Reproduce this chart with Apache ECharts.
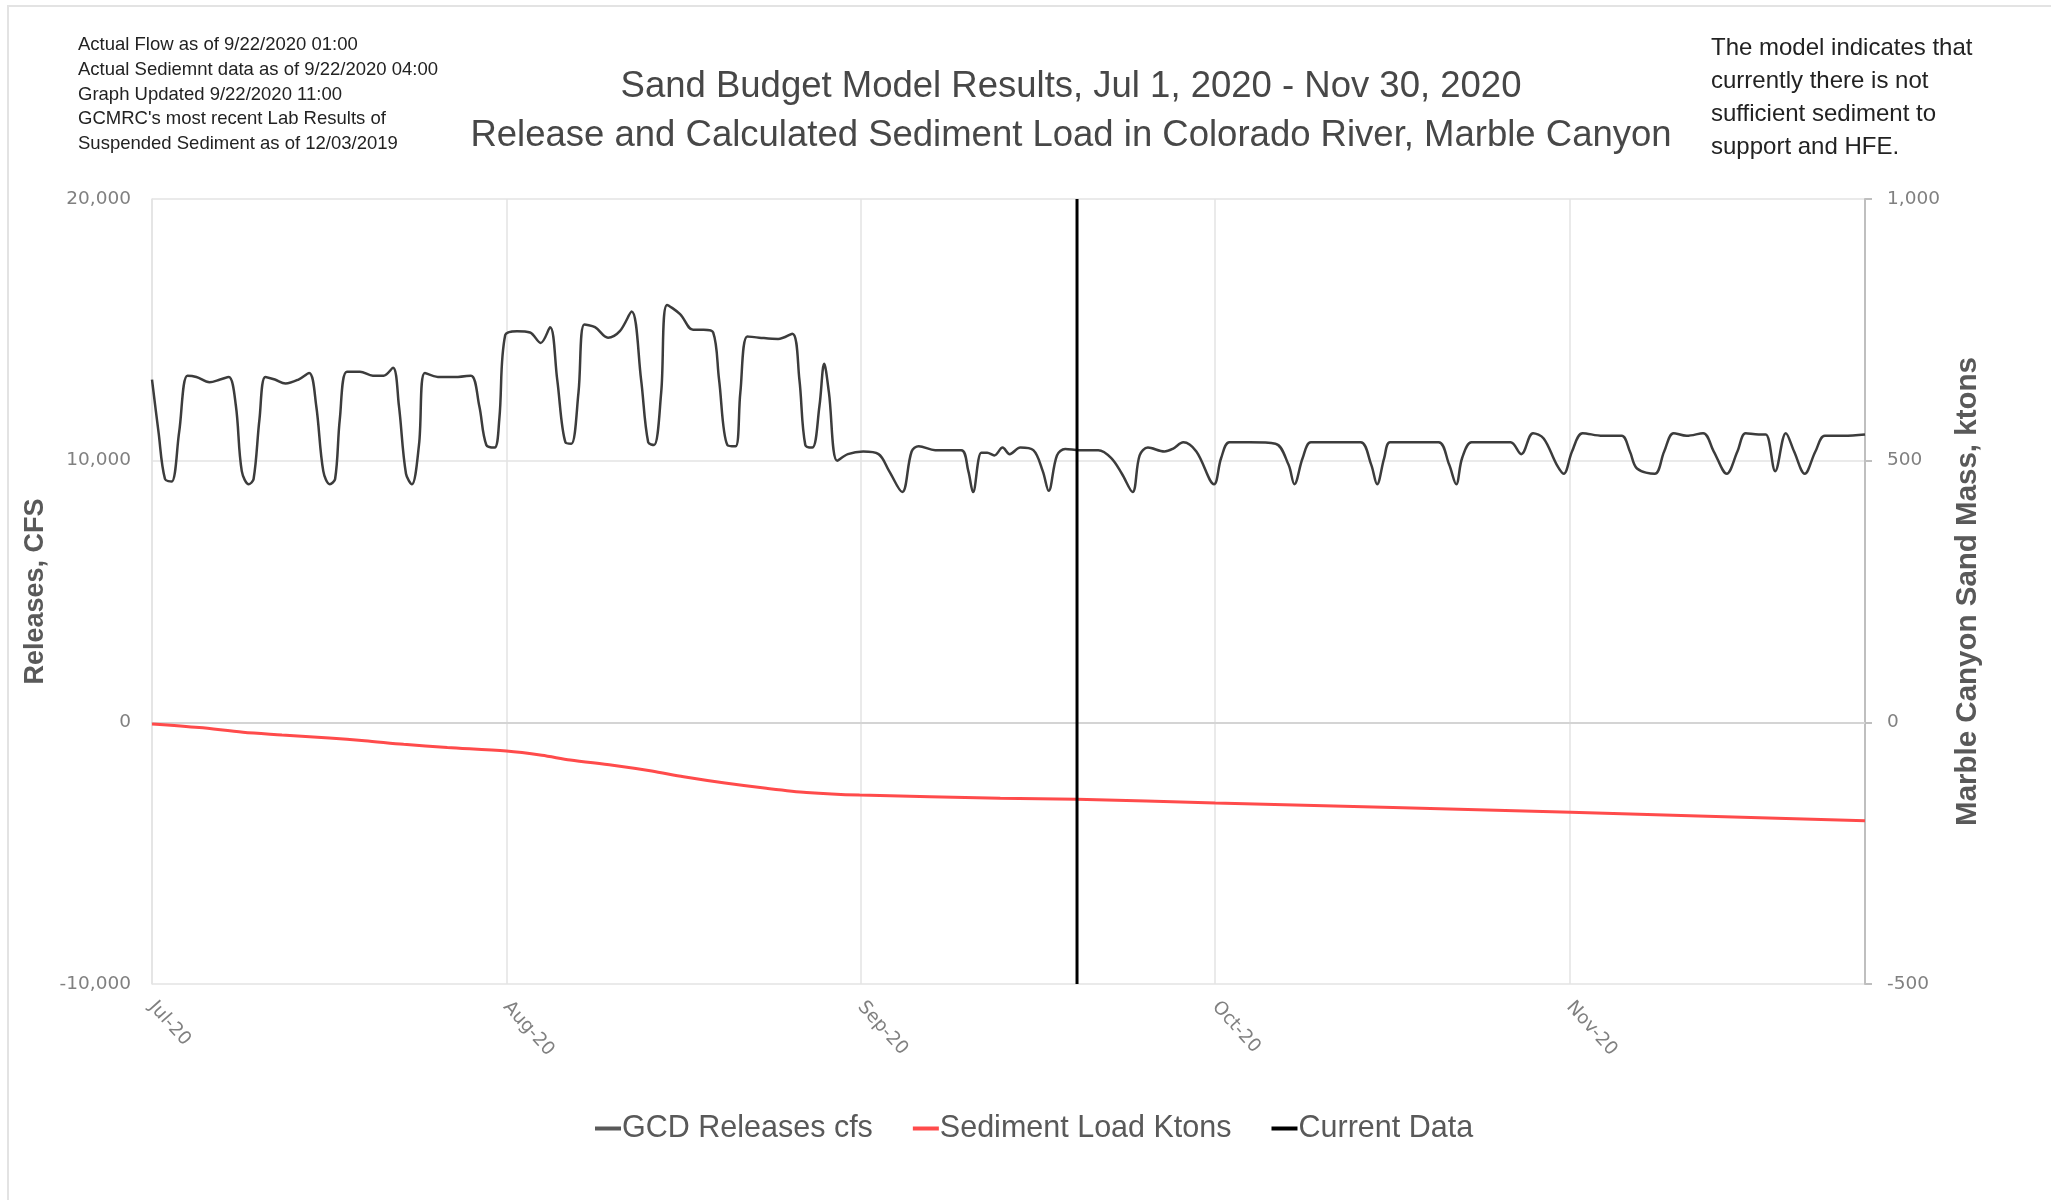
<!DOCTYPE html>
<html>
<head>
<meta charset="utf-8">
<script src="https://cdn.jsdelivr.net/npm/echarts@6/dist/echarts.min.js"></script>
<style>
  html, body { margin: 0; padding: 0; background: #fff; }
  #chart { width: 2051px; height: 1200px; }
</style>
</head>
<body>
<div id="chart"></div>
<script>
// x is days since Jul 1, 2020 (axis labels every 30 days)
const monthLabels = ['Jul-20', 'Aug-20', 'Sep-20', 'Oct-20', 'Nov-20']

// GCD releases, cfs
const releaseDay = [0, 0.55, 1.1, 1.66, 2.3, 3.0, 3.76, 4.87, 5.76, 6.5, 7.1, 7.6, 8.2, 8.6, 9.1, 9.6, 10.4, 11.3, 12.4, 13.3,
  13.9, 14.5, 15.05, 15.5, 15.9, 16.5, 17.6, 18.7, 19.6, 20.4, 20.9, 21.5, 22.0, 22.6, 23.1, 24.2, 25.9, 27.0, 27.7, 28.3,
  29.0, 29.4, 29.9, 30.9, 32.0, 32.9, 33.7, 34.3, 35.0, 35.5, 36.1, 36.6, 37.5, 38.6, 39.6, 40.6, 41.4, 42.0, 42.5, 43.1,
  43.6, 44.7, 45.8, 46.7, 47.5, 48.0, 48.7, 49.4, 49.8, 50.4, 51.4, 53.0, 54.2, 54.8, 55.3, 55.9, 56.5, 56.9, 57.3, 58.0,
  58.9, 60.2, 61.5, 62.4, 63.5, 64.3, 64.9, 66.3, 68.5, 69.1, 69.5, 70.2, 70.7, 71.3, 72.0, 72.6, 73.5, 74.6, 75.4, 75.9,
  76.6, 77.3, 78.5, 80.1, 81.2, 82.1, 83.0, 83.6, 84.3, 85.7, 86.4, 87.3, 88.4, 89.9, 90.5, 91.2, 92.9, 95.1, 96.2, 96.7,
  97.4, 98.1, 100.1, 102.3, 103.2, 103.7, 104.3, 104.8, 106.7, 108.9, 109.8, 110.4, 110.9, 111.7, 113.4, 115.0, 115.9, 116.9,
  117.8, 118.9, 119.5, 120.2, 121.1, 122.8, 124.4, 125.1, 125.7, 127.2, 128.0, 128.8, 129.9, 131.3, 132.2, 133.3, 134.2,
  134.9, 136.0, 136.6, 137.4, 138.3, 139.0, 139.9, 140.8, 141.6, 143.2, 145.0]
const releaseCfs = [13100, 11100, 9300, 9200, 11100, 13250, 13200, 13000, 13100, 13200, 12100, 9600, 9100, 9300, 11600, 13200, 13100, 12950, 13100, 13350,
  12100, 9600, 9100, 9300, 11600, 13400, 13400, 13250, 13250, 13550, 12100, 9500, 9100, 10600, 13350, 13200, 13200, 13250, 12100, 10600,
  10500, 11600, 14800, 14950, 14900, 14500, 15100, 13100, 10700, 10650, 12600, 15200, 15100, 14700, 14950, 15700, 13100, 10700, 10600, 12600,
  15950, 15600, 15000, 15000, 14900, 13100, 10600, 10550, 12600, 14750, 14700, 14650, 14850, 13100, 10600, 10500, 12100, 13700, 12600, 10000,
  10250, 10350, 10250, 9600, 8800, 10350, 10550, 10400, 10400, 9600, 8800, 10300, 10300, 10200, 10500, 10250, 10500, 10400, 9600, 8850,
  10200, 10450, 10400, 10400, 10100, 9500, 8800, 10200, 10500, 10350, 10450, 10700, 10350, 9100, 10100, 10700, 10700, 10650, 9850, 9100,
  10100, 10700, 10700, 10700, 9850, 9100, 10100, 10700, 10700, 10700, 9850, 9100, 10100, 10700, 10700, 10700, 10250, 11050,
  10850, 9850, 9500, 10350, 11050, 10950, 10950, 10350, 9700, 9500, 10350, 11050, 10950, 11050, 10350, 9500, 10350,
  11050, 11000, 11000, 9600, 11050, 10350, 9500, 10350, 10950, 10950, 11000]

// sediment load, ktons (right axis)
const sedDay = [0, 4, 7.7, 11, 15.0, 18, 21.3, 25, 30.0, 33, 35.4, 39, 42.3, 45, 48.5, 52, 55.4, 59.9, 71.8, 78.3, 90.0, 120.1, 145.0]
const sedKtons = [-3, -10, -19, -24, -30, -35, -42, -48, -55, -63, -72, -82, -93, -104, -116, -126, -134, -139, -145, -147, -154, -172, -188]

// current data marker
const currentDay = 78.3

const txt = '#595959'
const chart = echarts.init(document.getElementById('chart'))

chart.setOption({
  backgroundColor: '#fff',
  animation: false,
  textStyle: { fontFamily: 'Liberation Sans' },
  title: [{
    text: 'Sand Budget Model Results, Jul 1, 2020 - Nov 30, 2020\nRelease and Calculated Sediment Load in Colorado River, Marble Canyon',
    left: 1066,
    top: 57,
    textAlign: 'center',
    textStyle: { fontSize: 36.5, fontWeight: 'normal', color: '#474747', lineHeight: 49, fontFamily: 'Liberation Sans' }
  }],
  graphic: [
    {
      type: 'rect',
      shape: { x: 8, y: 6, width: 2100, height: 1300 },
      style: { fill: 'none', stroke: '#e3e3e3', lineWidth: 2 }
    },
    {
      type: 'text',
      left: 78,
      top: 33,
      style: {
        text: 'Actual Flow as of 9/22/2020 01:00\nActual Sediemnt data as of 9/22/2020 04:00\nGraph Updated 9/22/2020 11:00\nGCMRC\'s most recent Lab Results of\nSuspended Sediment as of 12/03/2019',
        fontSize: 18.5,
        lineHeight: 24.6,
        fill: '#222',
        fontFamily: 'Liberation Sans'
      }
    },
    {
      type: 'text',
      left: 1711,
      top: 32,
      style: {
        text: 'The model indicates that\ncurrently there is not\nsufficient sediment to\nsupport and HFE.',
        fontSize: 24,
        lineHeight: 33,
        fill: '#222',
        fontFamily: 'Liberation Sans'
      }
    }
  ],
  legend: {
    left: 590,
    top: 1108,
    itemWidth: 26,
    itemHeight: 4,
    itemGap: 40,
    icon: 'rect',
    textStyle: { fontSize: 30.5, color: txt, fontFamily: 'Liberation Sans', padding: [0, 0, 0, -4] },
    data: ['GCD Releases cfs', 'Sediment Load Ktons', 'Current Data']
  },
  grid: { left: 152, right: 186, top: 199, bottom: 216, containLabel: false },
  xAxis: {
    type: 'value',
    min: 0,
    max: 145,
    interval: 30,
    axisLine: { show: true, lineStyle: { color: '#d4d4d4', width: 2 } },
    axisTick: { show: false },
    splitLine: { show: true, lineStyle: { color: '#e3e3e3', width: 1.5 } },
    axisLabel: {
      rotate: -48,
      margin: 20,
      fontSize: 18.5,
      color: '#808080',
      fontFamily: 'DejaVu Sans',
      showMaxLabel: false,
      formatter: function (v) {
        return v % 30 === 0 ? (monthLabels[v / 30] || '') : ''
      }
    }
  },
  yAxis: [
    {
      type: 'value',
      min: -10000,
      max: 20000,
      interval: 10000,
      name: 'Releases, CFS',
      nameLocation: 'middle',
      nameRotate: 90,
      nameGap: 103,
      nameTextStyle: { fontSize: 27, fontWeight: 'bold', color: txt, fontFamily: 'Liberation Sans' },
      axisLine: { show: true, lineStyle: { color: '#e3e3e3', width: 1.5 } },
      axisTick: { show: false },
      splitLine: { show: true, lineStyle: { color: '#e3e3e3', width: 1.5 } },
      axisLabel: {
        margin: 21,
        fontSize: 18.5,
        color: '#808080',
        fontFamily: 'DejaVu Sans',
        formatter: function (v) { return v.toLocaleString('en-US') }
      }
    },
    {
      type: 'value',
      min: -500,
      max: 1000,
      interval: 500,
      position: 'right',
      name: 'Marble Canyon Sand Mass, ktons',
      nameLocation: 'middle',
      nameRotate: 90,
      nameGap: 88,
      nameTextStyle: { fontSize: 29.5, fontWeight: 'bold', color: txt, fontFamily: 'Liberation Sans' },
      axisLine: { show: true, lineStyle: { color: '#bfbfbf', width: 2 } },
      axisTick: { show: true, length: 7, lineStyle: { color: '#bfbfbf', width: 2 } },
      splitLine: { show: false },
      axisLabel: {
        margin: 22,
        fontSize: 18.5,
        color: '#808080',
        fontFamily: 'DejaVu Sans',
        formatter: function (v) { return v.toLocaleString('en-US') }
      }
    }
  ],
  series: [
    {
      name: 'GCD Releases cfs',
      type: 'line',
      yAxisIndex: 0,
      symbol: 'none',
      smooth: 0.35,
      color: '#595959',
      lineStyle: { color: '#3c3c3c', width: 2.5 },
      data: releaseDay.map((d, i) => [d, releaseCfs[i]])
    },
    {
      name: 'Sediment Load Ktons',
      type: 'line',
      yAxisIndex: 1,
      symbol: 'none',
      smooth: 0.3,
      color: '#ff4b4b',
      lineStyle: { color: '#ff4b4b', width: 3 },
      data: sedDay.map((d, i) => [d, sedKtons[i]])
    },
    {
      name: 'Current Data',
      type: 'line',
      yAxisIndex: 0,
      symbol: 'none',
      color: '#000',
      lineStyle: { color: '#000', width: 3 },
      data: [[currentDay, -10000], [currentDay, 20000]]
    }
  ]
})
</script>
</body>
</html>
